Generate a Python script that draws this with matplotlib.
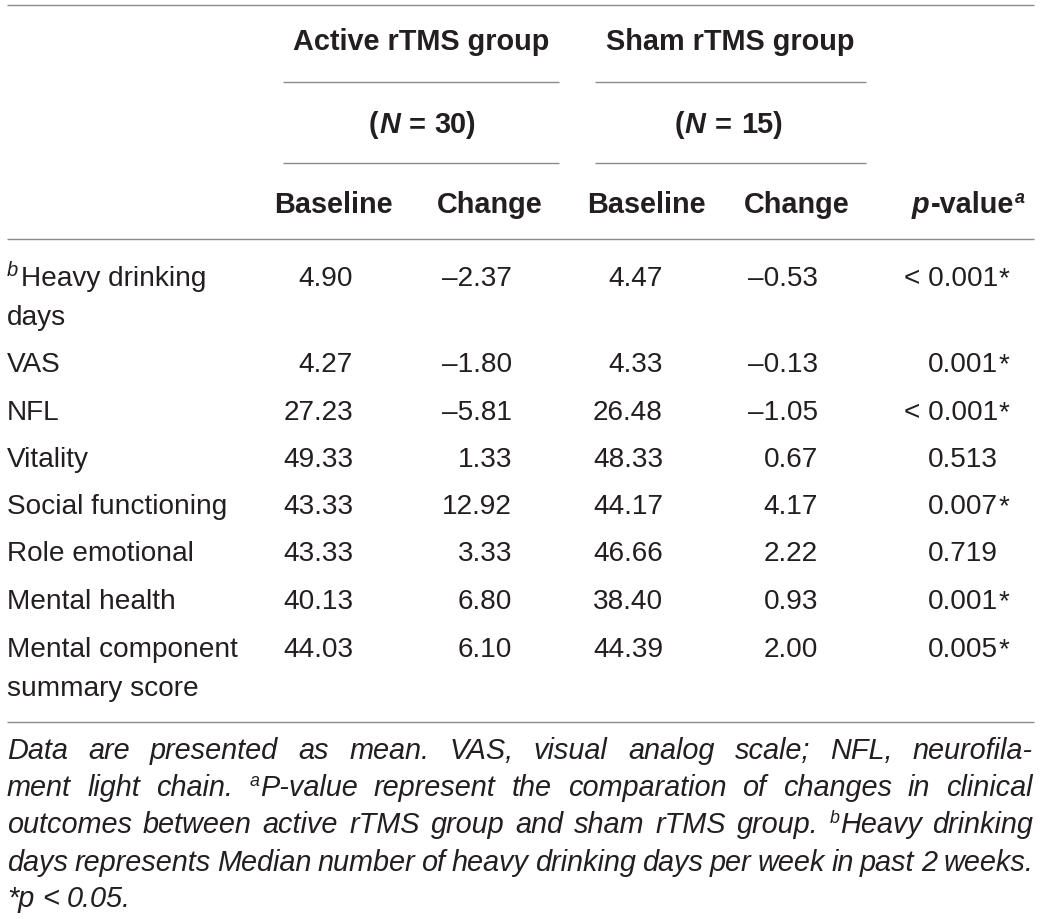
import matplotlib
matplotlib.use("Agg")
import matplotlib.pyplot as plt

FONT = "Liberation Sans"
TXT = "#231f20"
LINE = "#8a8a8a"

# ---------------- data ----------------
group_names = ["Active rTMS group", "Sham rTMS group"]
group_n = ["30", "15"]
sub_headers = ["Baseline", "Change", "Baseline", "Change"]
row_labels = [["Heavy drinking", "days"], ["VAS"], ["NFL"], ["Vitality"],
              ["Social functioning"], ["Role emotional"], ["Mental health"],
              ["Mental component", "summary score"]]
row_sup = ["b", "", "", "", "", "", "", ""]
active_baseline = [4.90, 4.27, 27.23, 49.33, 43.33, 43.33, 40.13, 44.03]
active_change = [-2.37, -1.80, -5.81, 1.33, 12.92, 3.33, 6.80, 6.10]
sham_baseline = [4.47, 4.33, 26.48, 48.33, 44.17, 46.66, 38.40, 44.39]
sham_change = [-0.53, -0.13, -1.05, 0.67, 4.17, 2.22, 0.93, 2.00]
p_values = ["< 0.001", "0.001", "< 0.001", "0.513", "0.007", "0.719", "0.001", "0.005"]
significant = [True, True, True, False, True, False, True, True]

foot_lines = [
    "Data are presented as mean. VAS, visual analog scale; NFL, neurofila-",
    "ment light chain. ^aP-value represent the comparation of changes in clinical",
    "outcomes between active rTMS group and sham rTMS group. ^bHeavy drinking",
    "days represents Median number of heavy drinking days per week in past 2 weeks.",
    "*p < 0.05.",
]

# ---------------- layout ----------------
fig = plt.figure(figsize=(10.4, 9.19), dpi=100)
ax = fig.add_axes([0, 0, 1, 1])
ax.set_xlim(0, 1040)
ax.set_ylim(919, 0)
ax.axis("off")
fig.canvas.draw()
renderer = fig.canvas.get_renderer()

SIZE = 20.2
HEAD = 20.8
FOOT = 20.8


def px(size):
    return size * 100 / 72


def make_segs(segs, y, size):
    out = []
    for text, kw in segs:
        kw = dict(kw)
        sup = kw.pop("sup", False)
        scale = kw.pop("scale", 0.62)
        fs = size * scale if sup else size
        dy = -px(size) * 0.36 if sup else 0
        if text == " ":
            out.append((None, px(size) * 0.278))
            continue
        t = ax.text(0, y + dy, text, fontsize=fs, family=FONT, va="baseline",
                    ha="left", color=TXT, **kw)
        w = t.get_window_extent(renderer).width
        out.append((t, w))
    return out


def rich(x, y, segs, ha="left", size=SIZE, pad=1.0):
    items = make_segs(segs, y, size)
    total = sum(w for _, w in items)
    if ha == "right":
        cx = x - total
    elif ha == "center":
        cx = x - total / 2
    else:
        cx = x
    for t, w in items:
        if t is not None:
            t.set_x(cx)
        cx += w + (pad if t is not None else 0)
    return total


def hline(y, x0, x1):
    ax.plot([x0, x1], [y, y], color=LINE, lw=1.0, solid_capstyle="butt")


# rules
hline(5, 7, 1034)
for x0, x1 in [(283, 559), (595, 866)]:
    hline(82, x0, x1)
    hline(163, x0, x1)
hline(239, 7, 1034)
hline(722, 7, 1034)

B = {"weight": "bold"}
BI = {"weight": "bold", "style": "italic"}

# group headers
group_centers = [421, 730]
n_centers = [421, 727]
for name, n, cx, nx in zip(group_names, group_n, group_centers, n_centers):
    rich(cx, 50, [(name, B)], ha="center", size=HEAD)
    rich(nx, 133, [("(", B), ("N", BI), (" ", {}), ("=", B), (" ", {}), (n + ")", B)],
         ha="center", size=HEAD)

sub_centers = [333, 490, 646, 797]
for h, cx in zip(sub_headers, sub_centers):
    rich(cx, 213, [(h, B)], ha="center", size=HEAD)
rich(1023, 213, [("p", BI), ("-value", B), ("a", dict(BI, sup=True))], ha="right",
     size=HEAD)

# body rows
row_base = [286, 372, 420, 467, 514, 561, 609, 657]
col_right = [353, 512, 663, 818]


def fmt(v):
    return f"{v:.2f}".replace("-", "\u2013")


for i, lines in enumerate(row_labels):
    y = row_base[i]
    for j, ln in enumerate(lines):
        yy = y + j * 39
        if j == 0 and row_sup[i]:
            rich(7, yy, [(row_sup[i], {"style": "italic", "sup": True, "scale": 0.72}),
                         (ln, {})], pad=3.0)
        else:
            rich(7, yy, [(ln, {})])
    for vals, xr in zip([active_baseline, active_change, sham_baseline, sham_change], col_right):
        rich(xr, y, [(fmt(vals[i]), {})], ha="right")
    rich(998, y, [(p_values[i], {})], ha="right")
    if significant[i]:
        ax.text(999, y, "*", fontsize=SIZE, family=FONT, va="baseline", ha="left", color=TXT)

# footnote (justified)
IT = {"style": "italic"}
foot_base = [759, 796, 833, 871, 907]
x0, x1 = 7, 1033


def word_segs(word):
    if word.startswith("^"):
        return [(word[1], dict(IT, sup=True)), (word[2:], IT)]
    return [(word, IT)]


for k, line in enumerate(foot_lines):
    y = foot_base[k]
    words = line.split(" ")
    groups = [make_segs(word_segs(w), y, FOOT) for w in words]
    widths = [sum(w for _, w in g) for g in groups]
    if k < len(foot_lines) - 1:
        gap = (x1 - x0 - sum(widths)) / (len(words) - 1)
    else:
        gap = px(FOOT) * 0.278
    cx = x0
    for g, wd in zip(groups, widths):
        sx = cx
        for t, w in g:
            t.set_x(sx)
            sx += w + 0.5
        cx += wd + gap

fig.savefig("out.png", dpi=100)
